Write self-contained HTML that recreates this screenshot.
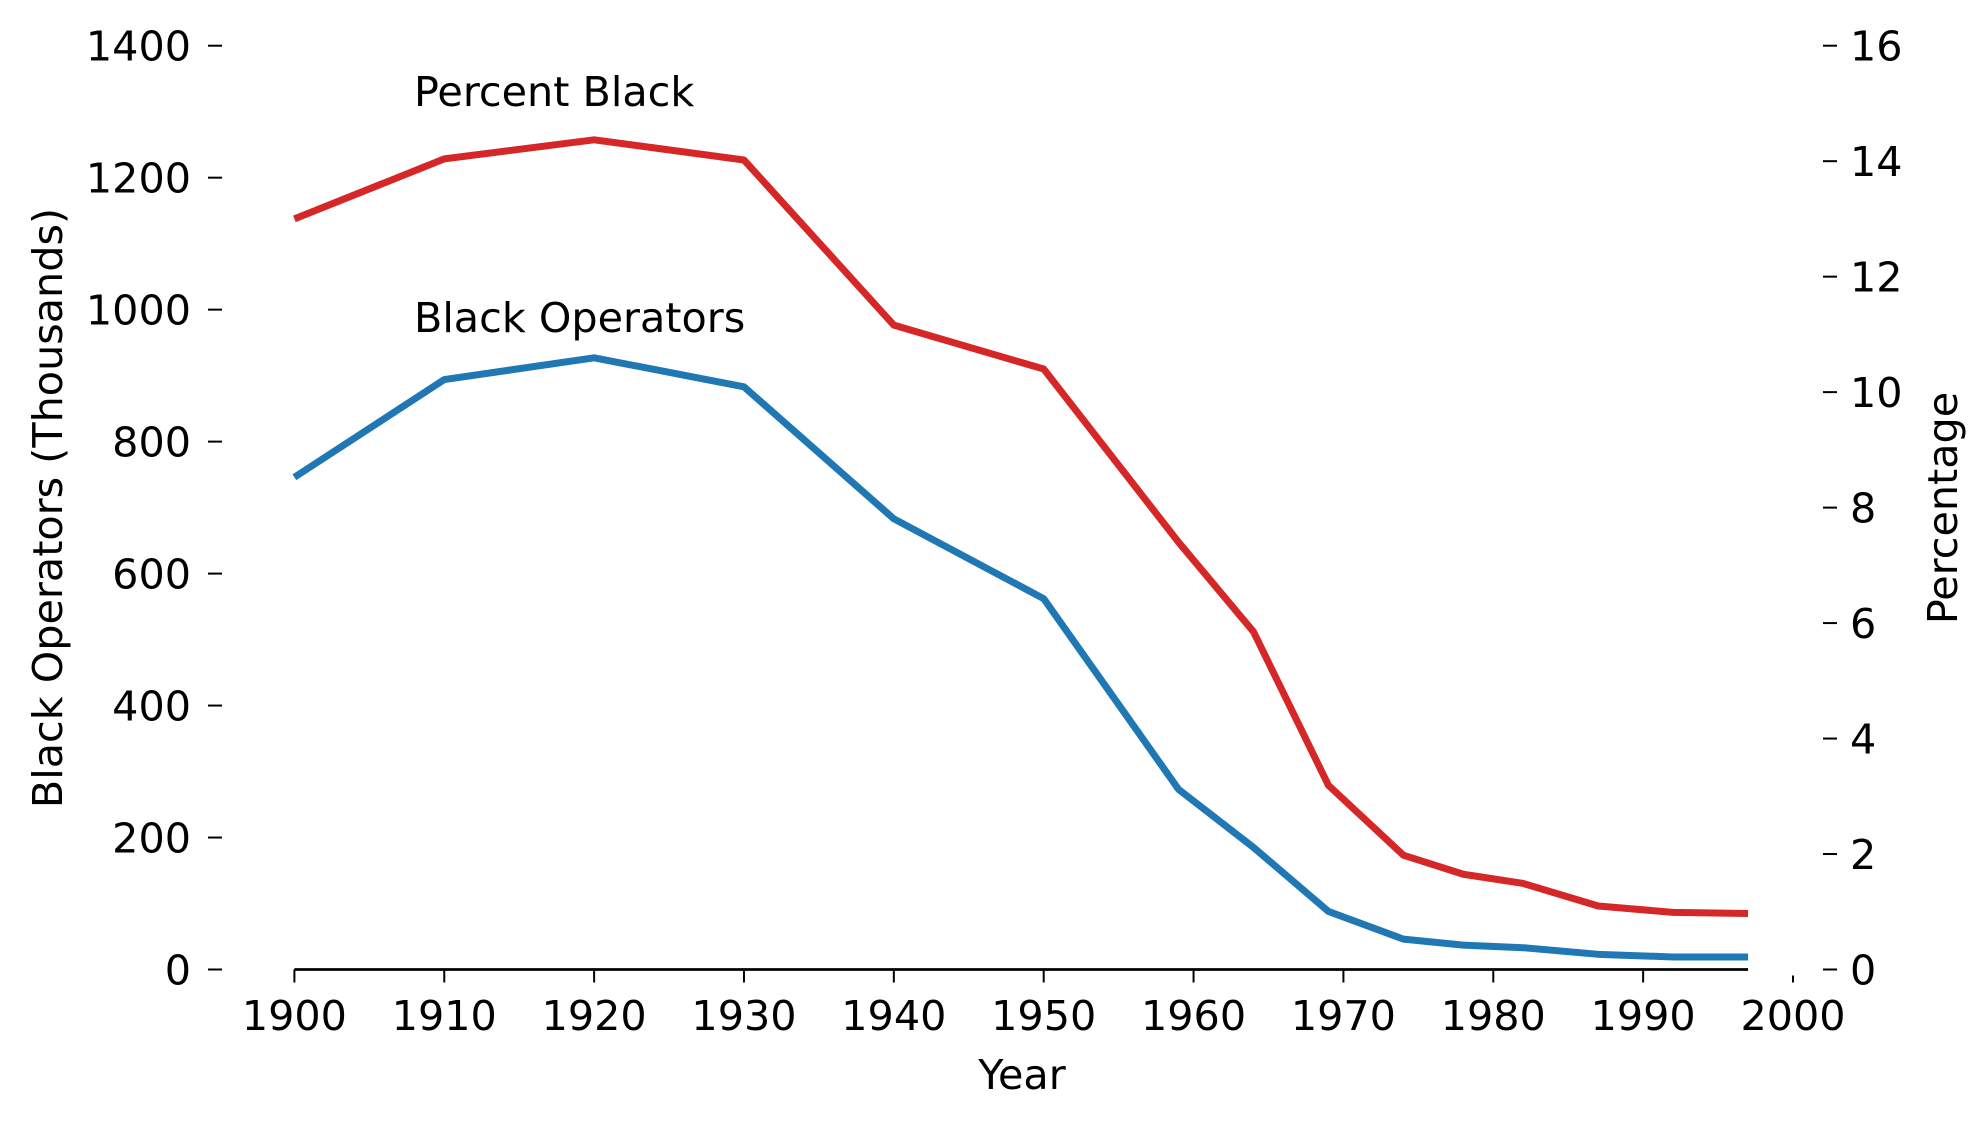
<!DOCTYPE html>
<html><head><meta charset="utf-8"><style>
html,body{margin:0;padding:0;background:#fff}
svg{display:block;font-family:"DejaVu Sans","Liberation Sans",sans-serif}
</style></head><body>
<svg id="chart" width="1988" height="1125" viewBox="0 0 1988 1125" xmlns="http://www.w3.org/2000/svg">
<g id="axes"></g>
<g id="series"></g>
</svg>
<script>
const years = [1900,1910,1920,1930,1940,1950,1959,1964,1969,1974,1978,1982,1987,1992,1997];
const operators = [746,894,927,883,683,562,273,185,88,46,37,33,23,19,19];
const percentBlack = [13.0,14.04,14.37,14.02,11.16,10.4,7.4,5.85,3.19,1.98,1.65,1.49,1.1,0.99,0.97];
const xTicks = [1900,1910,1920,1930,1940,1950,1960,1970,1980,1990,2000];
const yLeftTicks = [0,200,400,600,800,1000,1200,1400];
const yRightTicks = [0,2,4,6,8,10,12,14,16];

const NS='http://www.w3.org/2000/svg';
const X0=294.4, X1=1793, Y0=969.5, YT=45.7;
const FS=41.3;
const xs = v => X0 + (v-1900)/100*(X1-X0);
const yl = v => Y0 - v/1400*(Y0-YT);
const yr = v => Y0 - v/16*(Y0-YT);
function mk(tag, attrs, parent, text){
  const e=document.createElementNS(NS,tag);
  for(const k in attrs) e.setAttribute(k,attrs[k]);
  if(text!==undefined) e.textContent=text;
  parent.appendChild(e); return e;
}
const ax=document.getElementById('axes');
const se=document.getElementById('series');
let sp=mk('line',{x1:X0,x2:xs(1997),y1:Y0,y2:Y0,stroke:'#000','stroke-width':2.8},ax);


xTicks.forEach(t=>{
  const tk=mk('line',{x1:xs(t),x2:xs(t),y1:Y0+(t===2000?6:0),y2:Y0+13,stroke:'#000','stroke-width':2},ax);
  
  
  const lb=mk('text',{x:xs(t),y:1030,'font-size':FS,'text-anchor':'middle',fill:'#000'},ax,String(t));
  
  
});
yLeftTicks.forEach(t=>{
  const tk=mk('line',{x1:208,x2:222,y1:yl(t),y2:yl(t),stroke:'#000','stroke-width':2},ax);
  
  
  const lb=mk('text',{x:191,y:yl(t)+15,'font-size':FS,'text-anchor':'end',fill:'#000'},ax,String(t));
  
  
});
yRightTicks.forEach(t=>{
  const tk=mk('line',{x1:1823,x2:1837,y1:yr(t),y2:yr(t),stroke:'#000','stroke-width':2},ax);
  
  
  const lb=mk('text',{x:1850,y:yr(t)+15,'font-size':FS,'text-anchor':'start',fill:'#000'},ax,String(t));
  
  
});
let t1=mk('text',{x:1022,y:1089,'font-size':FS,'text-anchor':'middle'},ax,'Year');


let t2=mk('text',{x:0,y:0,'font-size':FS,'text-anchor':'middle',transform:'translate(62,508) rotate(-90)'},ax,'Black Operators (Thousands)');


let t3=mk('text',{x:0,y:0,'font-size':FS,'text-anchor':'middle',transform:'translate(1957,508) rotate(-90)'},ax,'Percentage');


let a1=mk('text',{x:414,y:106,'font-size':FS},ax,'Percent Black');


let a2=mk('text',{x:414,y:332,'font-size':FS},ax,'Black Operators');



const pr=years.map((y,i)=>xs(y)+','+yr(percentBlack[i])).join(' ');
let l1=mk('polyline',{points:pr,fill:'none',stroke:'#d62728','stroke-width':7,'stroke-linejoin':'round'},se);


const pb=years.map((y,i)=>xs(y)+','+yl(operators[i])).join(' ');
let l2=mk('polyline',{points:pb,fill:'none',stroke:'#1f77b4','stroke-width':7,'stroke-linejoin':'round'},se);


</script>
</body></html>
